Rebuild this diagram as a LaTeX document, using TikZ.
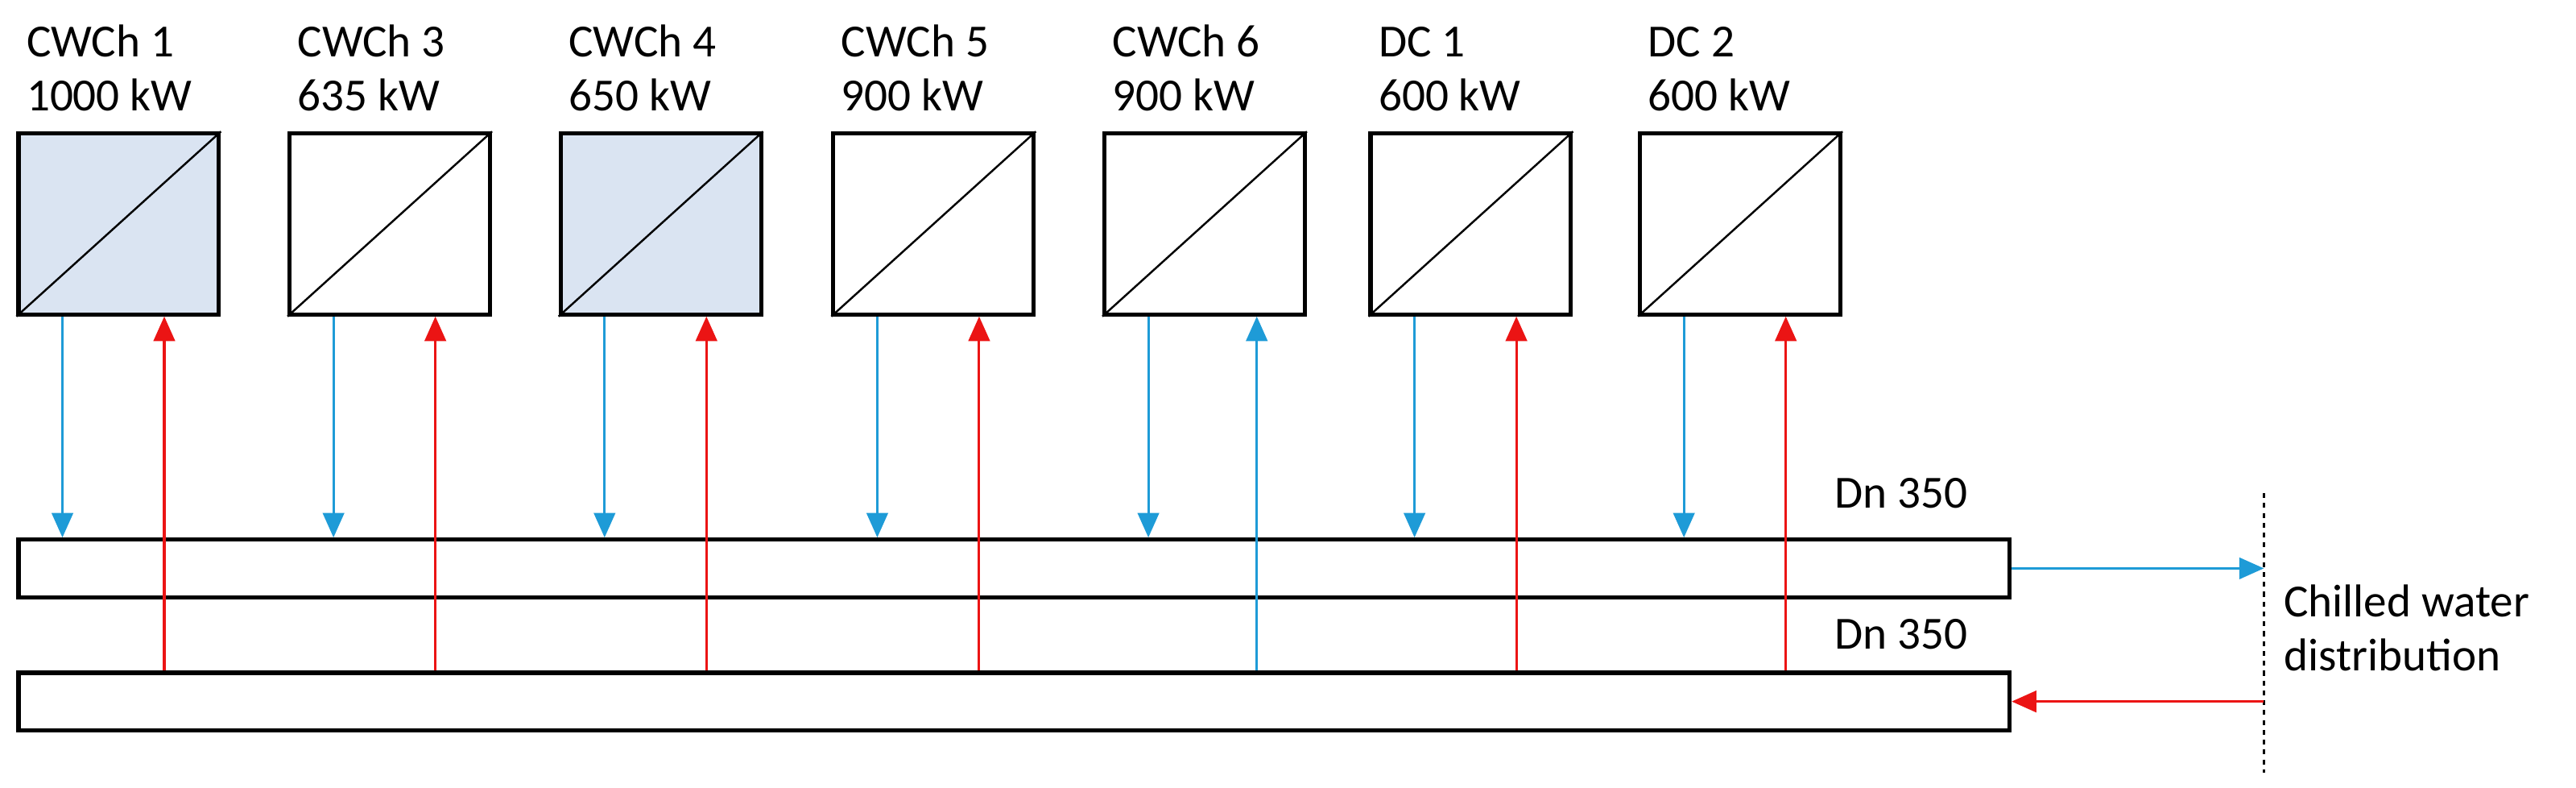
\documentclass[tikz,border=0pt]{standalone}
\usepackage{fontspec}
\setmainfont{Carlito}
\usetikzlibrary{arrows.meta}
\definecolor{cblue}{RGB}{30,155,215}
\definecolor{cred}{RGB}{235,20,20}
\definecolor{cfill}{RGB}{218,228,242}
\begin{document}
\begin{tikzpicture}[x=1pt,y=-1pt,
  box/.style={draw,line width=2.5pt,minimum width=122pt,minimum height=110pt,inner sep=0,anchor=north west},
  pipe/.style={draw,line width=2.5pt,minimum width=1212pt,minimum height=35pt,inner sep=0,anchor=north west},
  lab/.style={font=\fontsize{28}{33}\selectfont,align=left,anchor=south west,inner sep=0},
  tip/.style={-{Triangle[length=15pt,width=13pt]},line width=1.5pt},
  bl/.style={tip,cblue},
  rd/.style={tip,cred}]
\useasboundingbox (0,0) rectangle (1568,479);
\node[pipe] (p1) at (10,327) {};
\node[pipe] (p2) at (10,408) {};
\foreach \n/\x/\f/\a/\b in {b1/10/cfill/CWCh 1/1000 kW, b3/175/white/CWCh 3/635 kW, b4/340/cfill/CWCh 4/650 kW, b5/506/white/CWCh 5/900 kW, b6/671/white/CWCh 6/900 kW, b7/833/white/DC 1/600 kW, b8/997/white/DC 2/600 kW}{
  \node[box,fill=\f] (\n) at (\x,80) {};
  \draw[line width=1.2pt] (\n.south west) -- (\n.north east);
  \node[lab] (\n l) at ([yshift=12pt,xshift=6pt]\n.north west) {\a\\\b};
  \draw[bl] ([xshift=28pt]\n.south west) -- ([xshift=28pt]\n.south west |- p1.north);
}
\foreach \n in {b1,b3,b4,b5,b7,b8}{
  \draw[rd] ([xshift=90pt]\n.south west |- p2.north) -- ([xshift=90pt]\n.south west);
}
\draw[bl] ([xshift=94pt]b6.south west |- p2.north) -- ([xshift=94pt]b6.south west);
\coordinate (dt) at (1378,300);
\coordinate (db) at (1378,470);
\draw[dashed,line width=1.2pt] (dt) -- (db);
\draw[bl] (p1.east) -- (p1.east -| dt);
\draw[rd] (p2.east -| dt) -- (p2.east);
\node[lab,anchor=east] (d1) at (1198,300) {Dn 350};
\node[lab,anchor=east] (d2) at (1198,386) {Dn 350};
\node[lab,anchor=west] (cw) at (1390,382) {Chilled water\\distribution};
\end{tikzpicture}
\end{document}
